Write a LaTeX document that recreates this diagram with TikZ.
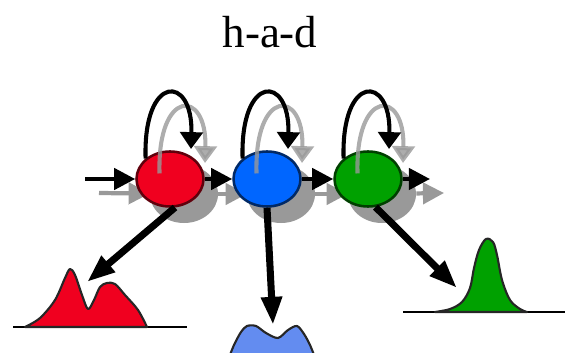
\documentclass[tikz,border=0pt]{standalone}
\usepackage{fontspec}
\setmainfont{Liberation Serif}
\usetikzlibrary{arrows.meta,shapes.geometric}

\definecolor{ruby}{rgb}{0.94, 0.0, 0.12}
\definecolor{azure}{rgb}{0.0, 0.4, 1.0}
\definecolor{leaf}{rgb}{0.0, 0.63, 0.0}
\definecolor{cornflower}{rgb}{0.39, 0.55, 0.94}
\definecolor{ash}{rgb}{0.6, 0.6, 0.6}

\tikzset{
  state/.style={ellipse, draw=#1!40!black, fill=#1, line width=1.8pt,
    minimum width=1.675cm, minimum height=1.375cm, inner sep=0pt},
  shade/.style={ellipse, fill=ash, minimum width=1.7cm, minimum height=1.45cm, inner sep=0pt},
  chain/.style={line width=3pt, -{Triangle[length=15pt,width=15pt]}},
  loopy/.style={line width=2.9pt, -{Triangle[length=12pt,width=16pt]}},
  emit/.style={line width=5pt, -{Triangle[length=20pt,width=14pt]}},
  density/.style={draw=black!85, line width=1.5pt, line join=round},
}

\begin{document}
\begin{tikzpicture}[x=0.025cm, y=-0.025cm]

        \useasboundingbox (0,0) rectangle (565,353);
        \clip (0,0) rectangle (565,353);
        %\draw [help lines, step=50] (0,0) grid (565,353);

        \node[anchor=base, font=\fontsize{32}{38}\selectfont] (title) at (270,48) {h-a-d};

        % grey copy of the chain, pushed down and right
        \node[shade] (rshd) at (184,194) {};
        \node[shade] (bshd) at (281,194) {};
        \node[shade] (gshd) at (382,194) {};
        \coordinate (inshd) at (99,193);
        \coordinate (outshd) at (444,193);

        \draw [ash, chain] (inshd) -- (rshd);
        \draw [ash, chain] (rshd) -- (bshd);
        \draw [ash, chain] (bshd) -- (gshd);
        \draw [ash, chain] (gshd) -- (outshd);

        % hidden states
        \node[state=ruby] (red) at (170,179) {};
        \node[state=azure] (blue) at (267,179) {};
        \node[state=leaf] (green) at (368,179) {};

        % grey self loops
        \draw [ash, loopy, opacity=0.8] (rshd.140) .. controls +(-2.6,-85) and +(2,-75) .. ([shift={(21,-31)}]rshd.center);
        \draw [ash, loopy, opacity=0.8] (bshd.140) .. controls +(-2.6,-85) and +(2,-75) .. ([shift={(21,-31)}]bshd.center);
        \draw [ash, loopy, opacity=0.8] (gshd.140) .. controls +(-2.6,-85) and +(2,-75) .. ([shift={(21,-31)}]gshd.center);

        % black chain
        \coordinate (in) at (85,179);
        \coordinate (out) at (430,179);

        \draw [chain] (in) -- (red);
        \draw [chain] (red) -- (blue);
        \draw [chain] (blue) -- (green);
        \draw [chain] (green) -- (out);

        \draw [loopy] (red.140) .. controls +(-2.6,-85) and +(2,-75) .. ([shift={(21,-30)}]red.center);
        \draw [loopy] (blue.140) .. controls +(-2.6,-85) and +(2,-75) .. ([shift={(21,-30)}]blue.center);
        \draw [loopy] (green.140) .. controls +(-2.6,-85) and +(2,-75) .. ([shift={(21,-30)}]green.center);

        % output densities
        \draw [line width=2pt] (13,327) -- (187,327);
        \filldraw [density, fill=ruby] plot [smooth, tension=0.55] coordinates
          {(25,327) (40,318) (55,300) (65,278) (70,269) (75,275) (82,295) (88,309)
           (94,300) (100,287) (107,283) (115,284) (125,295) (138,310) (147,327)} -- cycle;
        \coordinate (rtip) at (87,282);

        \filldraw [density, fill=cornflower] plot [smooth, tension=0.5] coordinates
          {(228,360) (234,345) (241,332) (247,326) (256,326) (266,333) (278,338)
           (288,330) (297,326) (304,334) (310,345) (316,360)} -- cycle;
        \coordinate (btip) at (273,325);

        \draw [line width=2pt] (403,312) -- (565,312);
        \filldraw [density, fill=leaf] plot [smooth, tension=0.55] coordinates
          {(435,312) (450,309) (462,302) (470,288) (474,268) (479,250) (486,239)
           (493,242) (497,255) (502,280) (510,300) (520,309) (527,312)} -- cycle;
        \coordinate (gtip) at (457,288);

        \draw [emit] (red.-80) -- (rtip);
        \draw [emit] (blue.south) -- (btip);
        \draw [emit] (green.-75) -- (gtip);

\end{tikzpicture}
\end{document}
